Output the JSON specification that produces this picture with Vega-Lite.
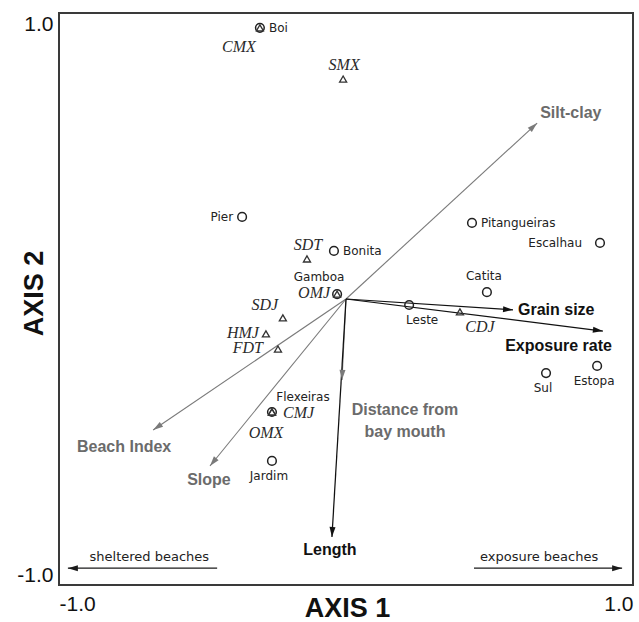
{
 "$schema": "https://vega.github.io/schema/vega-lite/v6.json",
 "width": 574, "height": 572,
 "autosize": "none",
 "padding": {"left": 59, "top": 13, "right": 6, "bottom": 37},
 "background": "#ffffff",
 "datasets": {
  "sites": [
   {"name": "Boi", "x": -0.300, "y": 0.948, "pos": "right"},
   {"name": "Pier", "x": -0.362, "y": 0.287, "pos": "left"},
   {"name": "Bonita", "x": -0.042, "y": 0.168, "pos": "right"},
   {"name": "Gamboa", "x": -0.031, "y": 0.017, "pos": "aboveleft"},
   {"name": "Pitangueiras", "x": 0.439, "y": 0.266, "pos": "right"},
   {"name": "Escalhau", "x": 0.885, "y": 0.196, "pos": "farleft"},
   {"name": "Catita", "x": 0.491, "y": 0.024, "pos": "above"},
   {"name": "Leste", "x": 0.220, "y": -0.021, "pos": "belowright"},
   {"name": "Sul", "x": 0.697, "y": -0.259, "pos": "below"},
   {"name": "Estopa", "x": 0.875, "y": -0.234, "pos": "below"},
   {"name": "Flexeiras", "x": -0.258, "y": -0.395, "pos": "aboveright"},
   {"name": "Jardim", "x": -0.258, "y": -0.566, "pos": "below"}
  ],
  "species": [
   {"name": "CMX", "x": -0.300, "y": 0.948, "pos": "belowleft"},
   {"name": "SMX", "x": -0.010, "y": 0.769, "pos": "above"},
   {"name": "SDT", "x": -0.136, "y": 0.140, "pos": "above"},
   {"name": "OMJ", "x": -0.031, "y": 0.017, "pos": "left"},
   {"name": "SDJ", "x": -0.220, "y": -0.066, "pos": "aboveleft"},
   {"name": "HMJ", "x": -0.279, "y": -0.122, "pos": "left"},
   {"name": "FDT", "x": -0.237, "y": -0.175, "pos": "farleft"},
   {"name": "CDJ", "x": 0.397, "y": -0.045, "pos": "belowright"},
   {"name": "CMJ", "x": -0.258, "y": -0.395, "pos": "right"},
   {"name": "OMX", "x": -0.258, "y": -0.395, "pos": "below"}
  ],
  "arrows": [
   {"name": "Silt-clay", "x1": 0, "y1": 0, "x2": 0.666, "y2": 0.615, "tone": "gray"},
   {"name": "Beach Index", "x1": 0, "y1": 0, "x2": -0.672, "y2": -0.458, "tone": "gray"},
   {"name": "Slope", "x1": 0, "y1": 0, "x2": -0.474, "y2": -0.584, "tone": "gray"},
   {"name": "Distance from\nbay mouth", "x1": 0, "y1": 0, "x2": -0.014, "y2": -0.283, "tone": "gray"},
   {"name": "Length", "x1": 0, "y1": 0, "x2": -0.049, "y2": -0.832, "tone": "black"},
   {"name": "Grain size", "x1": 0, "y1": 0, "x2": 0.582, "y2": -0.038, "tone": "black"},
   {"name": "Exposure rate", "x1": 0, "y1": 0, "x2": 0.895, "y2": -0.112, "tone": "black"},
   {"name": "sheltered beaches", "x1": -0.449, "y1": -0.941, "x2": -0.969, "y2": -0.941, "tone": "annot"},
   {"name": "exposure beaches", "x1": 0.446, "y1": -0.941, "x2": 0.962, "y2": -0.941, "tone": "annot"}
  ]
 },
 "layer": [
  {
   "data": {"name": "arrows"},
   "mark": {"type": "rule"},
   "encoding": {
    "x": {"field": "x1", "type": "quantitative", "scale": {"domain": [-1, 1], "nice": false, "zero": false}, "title": "AXIS 1"},
    "y": {"field": "y1", "type": "quantitative", "scale": {"domain": [-1, 1], "nice": false, "zero": false}, "title": "AXIS 2"},
    "x2": {"field": "x2"},
    "y2": {"field": "y2"},
    "color": {"field": "tone", "type": "nominal", "scale": {"domain": ["gray", "black", "annot"], "range": ["#7a7a7a", "#111111", "#1a1a1a"]}, "legend": null},
    "strokeWidth": {"field": "tone", "type": "ordinal", "scale": {"domain": ["gray", "black", "annot"], "range": [1.1, 1.4, 2]}, "legend": null}
   }
  },
  {
   "data": {"name": "arrows"},
   "transform": [{"calculate": "atan2(datum.x2 - datum.x1, datum.y2 - datum.y1) * 180 / PI", "as": "ang"}],
   "mark": {"type": "point", "shape": "M0,0L-0.3,1L0.3,1Z", "size": 400, "filled": true, "opacity": 1, "strokeWidth": 0},
   "encoding": {
    "x": {"field": "x2", "type": "quantitative", "scale": {"domain": [-1, 1], "nice": false, "zero": false}, "title": "AXIS 1"},
    "y": {"field": "y2", "type": "quantitative", "scale": {"domain": [-1, 1], "nice": false, "zero": false}, "title": "AXIS 2"},
    "angle": {"field": "ang", "type": "quantitative", "scale": null},
    "color": {"field": "tone", "type": "nominal", "scale": {"domain": ["gray", "black", "annot"], "range": ["#7a7a7a", "#111111", "#1a1a1a"]}, "legend": null}
   }
  },
  {
   "data": {"name": "sites"},
   "mark": {"type": "point", "shape": "circle", "filled": false, "color": "#222222", "strokeWidth": 1.5, "size": 75, "opacity": 1},
   "encoding": {
    "x": {"field": "x", "type": "quantitative", "scale": {"domain": [-1, 1], "nice": false, "zero": false}, "title": "AXIS 1"},
    "y": {"field": "y", "type": "quantitative", "scale": {"domain": [-1, 1], "nice": false, "zero": false}, "title": "AXIS 2"}
   }
  },
  {
   "data": {"name": "species"},
   "mark": {"type": "point", "shape": "triangle-up", "filled": false, "color": "#333333", "strokeWidth": 1.3, "size": 50, "opacity": 1},
   "encoding": {
    "x": {"field": "x", "type": "quantitative", "scale": {"domain": [-1, 1], "nice": false, "zero": false}, "title": "AXIS 1"},
    "y": {"field": "y", "type": "quantitative", "scale": {"domain": [-1, 1], "nice": false, "zero": false}, "title": "AXIS 2"}
   }
  },
  {"data": {"name": "sites"}, "transform": [{"filter": "datum.pos === 'right'"}],
   "mark": {"type": "text", "font": "DejaVu Sans", "fontSize": 12, "color": "#222222", "align": "left", "baseline": "middle", "dx": 9, "dy": 0},
   "encoding": {"x": {"field": "x", "type": "quantitative", "title": "AXIS 1"}, "y": {"field": "y", "type": "quantitative", "title": "AXIS 2"}, "text": {"field": "name"}}},
  {"data": {"name": "sites"}, "transform": [{"filter": "datum.pos === 'left'"}],
   "mark": {"type": "text", "font": "DejaVu Sans", "fontSize": 12, "color": "#222222", "align": "right", "baseline": "middle", "dx": -9, "dy": 0},
   "encoding": {"x": {"field": "x", "type": "quantitative", "title": "AXIS 1"}, "y": {"field": "y", "type": "quantitative", "title": "AXIS 2"}, "text": {"field": "name"}}},
  {"data": {"name": "sites"}, "transform": [{"filter": "datum.pos === 'farleft'"}],
   "mark": {"type": "text", "font": "DejaVu Sans", "fontSize": 12, "color": "#222222", "align": "right", "baseline": "middle", "dx": -18, "dy": 0},
   "encoding": {"x": {"field": "x", "type": "quantitative", "title": "AXIS 1"}, "y": {"field": "y", "type": "quantitative", "title": "AXIS 2"}, "text": {"field": "name"}}},
  {"data": {"name": "sites"}, "transform": [{"filter": "datum.pos === 'above'"}],
   "mark": {"type": "text", "font": "DejaVu Sans", "fontSize": 12, "color": "#222222", "align": "center", "baseline": "middle", "dx": -3, "dy": -16},
   "encoding": {"x": {"field": "x", "type": "quantitative", "title": "AXIS 1"}, "y": {"field": "y", "type": "quantitative", "title": "AXIS 2"}, "text": {"field": "name"}}},
  {"data": {"name": "sites"}, "transform": [{"filter": "datum.pos === 'aboveleft'"}],
   "mark": {"type": "text", "font": "DejaVu Sans", "fontSize": 12, "color": "#222222", "align": "center", "baseline": "middle", "dx": -18, "dy": -17},
   "encoding": {"x": {"field": "x", "type": "quantitative", "title": "AXIS 1"}, "y": {"field": "y", "type": "quantitative", "title": "AXIS 2"}, "text": {"field": "name"}}},
  {"data": {"name": "sites"}, "transform": [{"filter": "datum.pos === 'belowright'"}],
   "mark": {"type": "text", "font": "DejaVu Sans", "fontSize": 12, "color": "#222222", "align": "center", "baseline": "middle", "dx": 13, "dy": 15},
   "encoding": {"x": {"field": "x", "type": "quantitative", "title": "AXIS 1"}, "y": {"field": "y", "type": "quantitative", "title": "AXIS 2"}, "text": {"field": "name"}}},
  {"data": {"name": "sites"}, "transform": [{"filter": "datum.pos === 'below'"}],
   "mark": {"type": "text", "font": "DejaVu Sans", "fontSize": 12, "color": "#222222", "align": "center", "baseline": "middle", "dx": -3, "dy": 15},
   "encoding": {"x": {"field": "x", "type": "quantitative", "title": "AXIS 1"}, "y": {"field": "y", "type": "quantitative", "title": "AXIS 2"}, "text": {"field": "name"}}},
  {"data": {"name": "sites"}, "transform": [{"filter": "datum.pos === 'aboveright'"}],
   "mark": {"type": "text", "font": "DejaVu Sans", "fontSize": 12, "color": "#222222", "align": "center", "baseline": "middle", "dx": 31, "dy": -15},
   "encoding": {"x": {"field": "x", "type": "quantitative", "title": "AXIS 1"}, "y": {"field": "y", "type": "quantitative", "title": "AXIS 2"}, "text": {"field": "name"}}},
  {"data": {"name": "species"}, "transform": [{"filter": "datum.pos === 'belowleft'"}],
   "mark": {"type": "text", "font": "Liberation Serif", "fontSize": 16, "fontStyle": "italic", "color": "#2a2a2a", "align": "center", "baseline": "middle", "dx": -21, "dy": 19},
   "encoding": {"x": {"field": "x", "type": "quantitative", "title": "AXIS 1"}, "y": {"field": "y", "type": "quantitative", "title": "AXIS 2"}, "text": {"field": "name"}}},
  {"data": {"name": "species"}, "transform": [{"filter": "datum.pos === 'above'"}],
   "mark": {"type": "text", "font": "Liberation Serif", "fontSize": 16, "fontStyle": "italic", "color": "#2a2a2a", "align": "center", "baseline": "middle", "dx": 1, "dy": -14},
   "encoding": {"x": {"field": "x", "type": "quantitative", "title": "AXIS 1"}, "y": {"field": "y", "type": "quantitative", "title": "AXIS 2"}, "text": {"field": "name"}}},
  {"data": {"name": "species"}, "transform": [{"filter": "datum.pos === 'left'"}],
   "mark": {"type": "text", "font": "Liberation Serif", "fontSize": 16, "fontStyle": "italic", "color": "#2a2a2a", "align": "right", "baseline": "middle", "dx": -7, "dy": -1},
   "encoding": {"x": {"field": "x", "type": "quantitative", "title": "AXIS 1"}, "y": {"field": "y", "type": "quantitative", "title": "AXIS 2"}, "text": {"field": "name"}}},
  {"data": {"name": "species"}, "transform": [{"filter": "datum.pos === 'farleft'"}],
   "mark": {"type": "text", "font": "Liberation Serif", "fontSize": 16, "fontStyle": "italic", "color": "#2a2a2a", "align": "right", "baseline": "middle", "dx": -15, "dy": -1},
   "encoding": {"x": {"field": "x", "type": "quantitative", "title": "AXIS 1"}, "y": {"field": "y", "type": "quantitative", "title": "AXIS 2"}, "text": {"field": "name"}}},
  {"data": {"name": "species"}, "transform": [{"filter": "datum.pos === 'aboveleft'"}],
   "mark": {"type": "text", "font": "Liberation Serif", "fontSize": 16, "fontStyle": "italic", "color": "#2a2a2a", "align": "center", "baseline": "middle", "dx": -18, "dy": -13},
   "encoding": {"x": {"field": "x", "type": "quantitative", "title": "AXIS 1"}, "y": {"field": "y", "type": "quantitative", "title": "AXIS 2"}, "text": {"field": "name"}}},
  {"data": {"name": "species"}, "transform": [{"filter": "datum.pos === 'belowright'"}],
   "mark": {"type": "text", "font": "Liberation Serif", "fontSize": 16, "fontStyle": "italic", "color": "#2a2a2a", "align": "center", "baseline": "middle", "dx": 20, "dy": 15},
   "encoding": {"x": {"field": "x", "type": "quantitative", "title": "AXIS 1"}, "y": {"field": "y", "type": "quantitative", "title": "AXIS 2"}, "text": {"field": "name"}}},
  {"data": {"name": "species"}, "transform": [{"filter": "datum.pos === 'right'"}],
   "mark": {"type": "text", "font": "Liberation Serif", "fontSize": 16, "fontStyle": "italic", "color": "#2a2a2a", "align": "left", "baseline": "middle", "dx": 11, "dy": 1},
   "encoding": {"x": {"field": "x", "type": "quantitative", "title": "AXIS 1"}, "y": {"field": "y", "type": "quantitative", "title": "AXIS 2"}, "text": {"field": "name"}}},
  {"data": {"name": "species"}, "transform": [{"filter": "datum.pos === 'below'"}],
   "mark": {"type": "text", "font": "Liberation Serif", "fontSize": 16, "fontStyle": "italic", "color": "#2a2a2a", "align": "center", "baseline": "middle", "dx": -6, "dy": 21},
   "encoding": {"x": {"field": "x", "type": "quantitative", "title": "AXIS 1"}, "y": {"field": "y", "type": "quantitative", "title": "AXIS 2"}, "text": {"field": "name"}}},
  {"data": {"name": "arrows"}, "transform": [{"filter": "datum.name === 'Silt-clay'"}],
   "mark": {"type": "text", "font": "Liberation Sans", "fontSize": 16, "fontWeight": "bold", "color": "#6b6b6b", "align": "left", "baseline": "middle", "dx": 3, "dy": -10},
   "encoding": {"x": {"field": "x2", "type": "quantitative", "title": "AXIS 1"}, "y": {"field": "y2", "type": "quantitative", "title": "AXIS 2"}, "text": {"field": "name"}}},
  {"data": {"name": "arrows"}, "transform": [{"filter": "datum.name === 'Beach Index'"}],
   "mark": {"type": "text", "font": "Liberation Sans", "fontSize": 16, "fontWeight": "bold", "color": "#6b6b6b", "align": "center", "baseline": "middle", "dx": -29, "dy": 17},
   "encoding": {"x": {"field": "x2", "type": "quantitative", "title": "AXIS 1"}, "y": {"field": "y2", "type": "quantitative", "title": "AXIS 2"}, "text": {"field": "name"}}},
  {"data": {"name": "arrows"}, "transform": [{"filter": "datum.name === 'Slope'"}],
   "mark": {"type": "text", "font": "Liberation Sans", "fontSize": 16, "fontWeight": "bold", "color": "#6b6b6b", "align": "center", "baseline": "middle", "dx": -1, "dy": 14},
   "encoding": {"x": {"field": "x2", "type": "quantitative", "title": "AXIS 1"}, "y": {"field": "y2", "type": "quantitative", "title": "AXIS 2"}, "text": {"field": "name"}}},
  {"data": {"name": "arrows"}, "transform": [{"filter": "indexof(datum.name, 'Distance') === 0"}],
   "mark": {"type": "text", "font": "Liberation Sans", "fontSize": 16, "fontWeight": "bold", "color": "#6b6b6b", "align": "center", "baseline": "middle", "dx": 63, "dy": 30, "lineBreak": "\n", "lineHeight": 22},
   "encoding": {"x": {"field": "x2", "type": "quantitative", "title": "AXIS 1"}, "y": {"field": "y2", "type": "quantitative", "title": "AXIS 2"}, "text": {"field": "name"}}},
  {"data": {"name": "arrows"}, "transform": [{"filter": "datum.name === 'Length'"}],
   "mark": {"type": "text", "font": "Liberation Sans", "fontSize": 16, "fontWeight": "bold", "color": "#111111", "align": "center", "baseline": "middle", "dx": -2, "dy": 13},
   "encoding": {"x": {"field": "x2", "type": "quantitative", "title": "AXIS 1"}, "y": {"field": "y2", "type": "quantitative", "title": "AXIS 2"}, "text": {"field": "name"}}},
  {"data": {"name": "arrows"}, "transform": [{"filter": "datum.name === 'Grain size'"}],
   "mark": {"type": "text", "font": "Liberation Sans", "fontSize": 16, "fontWeight": "bold", "color": "#111111", "align": "left", "baseline": "middle", "dx": 5, "dy": 0},
   "encoding": {"x": {"field": "x2", "type": "quantitative", "title": "AXIS 1"}, "y": {"field": "y2", "type": "quantitative", "title": "AXIS 2"}, "text": {"field": "name"}}},
  {"data": {"name": "arrows"}, "transform": [{"filter": "datum.name === 'Exposure rate'"}],
   "mark": {"type": "text", "font": "Liberation Sans", "fontSize": 16, "fontWeight": "bold", "color": "#111111", "align": "right", "baseline": "middle", "dx": 9, "dy": 15},
   "encoding": {"x": {"field": "x2", "type": "quantitative", "title": "AXIS 1"}, "y": {"field": "y2", "type": "quantitative", "title": "AXIS 2"}, "text": {"field": "name"}}},
  {"data": {"name": "arrows"}, "transform": [{"filter": "datum.name === 'sheltered beaches'"}],
   "mark": {"type": "text", "font": "DejaVu Sans", "fontSize": 13, "color": "#222222", "align": "right", "baseline": "middle", "dx": -8, "dy": -11},
   "encoding": {"x": {"field": "x1", "type": "quantitative", "title": "AXIS 1"}, "y": {"field": "y1", "type": "quantitative", "title": "AXIS 2"}, "text": {"field": "name"}}},
  {"data": {"name": "arrows"}, "transform": [{"filter": "datum.name === 'exposure beaches'"}],
   "mark": {"type": "text", "font": "DejaVu Sans", "fontSize": 13, "color": "#222222", "align": "left", "baseline": "middle", "dx": 6, "dy": -11},
   "encoding": {"x": {"field": "x1", "type": "quantitative", "title": "AXIS 1"}, "y": {"field": "y1", "type": "quantitative", "title": "AXIS 2"}, "text": {"field": "name"}}}
 ],
 "config": {
  "view": {"stroke": "#3a3a3a", "strokeWidth": 2},
  "axisX": {
   "tickCount": 2, "labelExpr": "datum.value === -1 ? '-1.0' : (datum.value === 1 ? '1.0' : '')", "labelFlush": true,
   "ticks": false, "tickSize": 0, "domain": false, "grid": false,
   "labelFont": "Liberation Sans", "labelFontSize": 21, "labelColor": "#111111", "labelPadding": 8,
   "titleFont": "Liberation Sans", "titleFontSize": 27, "titleFontWeight": "bold", "titleColor": "#111111",
   "titleX": 288, "titleY": 31, "titleBaseline": "alphabetic", "titleAlign": "center"
  },
  "axisY": {
   "tickCount": 2, "labelExpr": "datum.value === -1 ? '-1.0' : (datum.value === 1 ? '1.0' : '')", "labelFlush": true,
   "ticks": false, "tickSize": 0, "domain": false, "grid": false,
   "labelFont": "Liberation Sans", "labelFontSize": 21, "labelColor": "#111111", "labelPadding": 6,
   "titleFont": "Liberation Sans", "titleFontSize": 27, "titleFontWeight": "bold", "titleColor": "#111111",
   "titleX": -17, "titleY": 280, "titleBaseline": "alphabetic", "titleAlign": "center", "titleAngle": -90
  }
 }
}
